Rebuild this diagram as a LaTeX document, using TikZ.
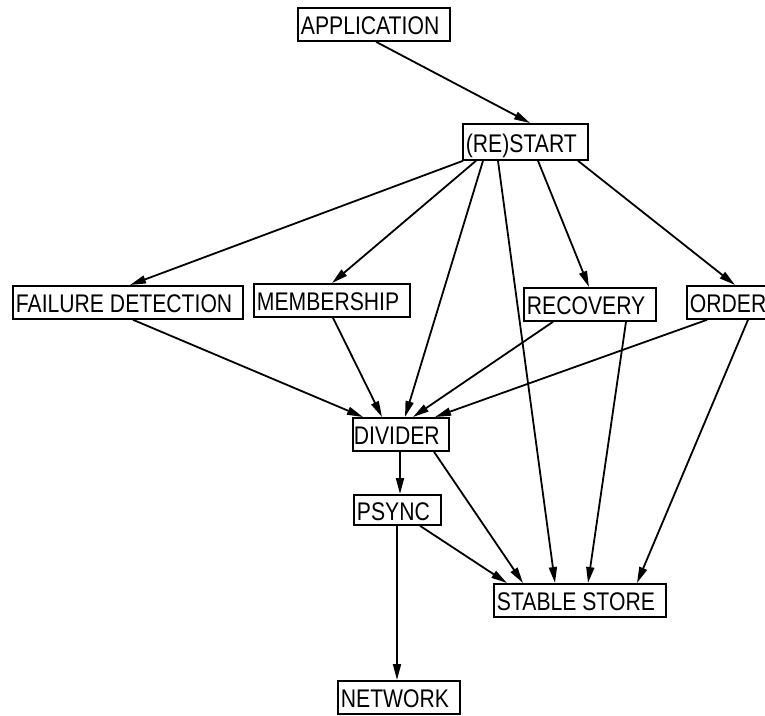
\documentclass[tikz,border=0pt]{standalone}
\usepackage{fontspec}
\newfontfamily\boxfont{Liberation Sans}[FakeStretch=0.83]
\usetikzlibrary{arrows.meta}

\begin{document}
\begin{tikzpicture}[x=1pt, y=-1pt,
	box/.style={draw, line width=1.8pt, anchor=north west, inner xsep=3pt, inner ysep=0pt,
		minimum height=33pt, text height=21pt, text depth=0pt,
		font=\boxfont\fontsize{25.5}{30}\selectfont, execute at end node=\hspace{8pt}},
	arr/.style={line width=1.8pt, -{Triangle[length=16pt, width=8pt]}}]
	
	% Frame
	\useasboundingbox (0,0) rectangle (765,715);
	
	% Modules
	\node[box] (app) at (297,7) {APPLICATION};
	\node[box, minimum height=36pt] (restart) at (462,123) {(RE)START};
	\node[box] (fd) at (12,285) {FAILURE DETECTION};
	\node[box] (member) at (253,283) {MEMBERSHIP};
	\node[box] (recovery) at (523,287) {RECOVERY};
	\node[box] (order) at (686,285) {ORDER};
	\node[box, inner xsep=1pt] (divider) at (352,417) {DIVIDER};
	\node[box, minimum height=30pt] (psync) at (353,494) {PSYNC};
	\node[box] (stable) at (493,583) {STABLE STORE};
	\node[box] (network) at (337,680) {NETWORK};
	
	% Dependencies (offsets from the lower and upper left corners)
	\foreach \from/\dx/\to/\dy in {app/79/restart/68,
		restart/1/fd/118, restart/14/member/79, restart/21/divider/53,
		restart/36/stable/62, restart/76/recovery/66, restart/116/order/49,
		fd/121/divider/11, member/80/divider/30, recovery/30/divider/61,
		order/21/divider/83, divider/48/psync/47, divider/82/stable/30,
		psync/67/stable/14, psync/44/network/60, recovery/103/stable/95,
		order/62/stable/144}{
		\draw[arr] ([xshift=\dx pt]\from.south west) -- ([xshift=\dy pt]\to.north west);
	}
	
\end{tikzpicture}
\end{document}
